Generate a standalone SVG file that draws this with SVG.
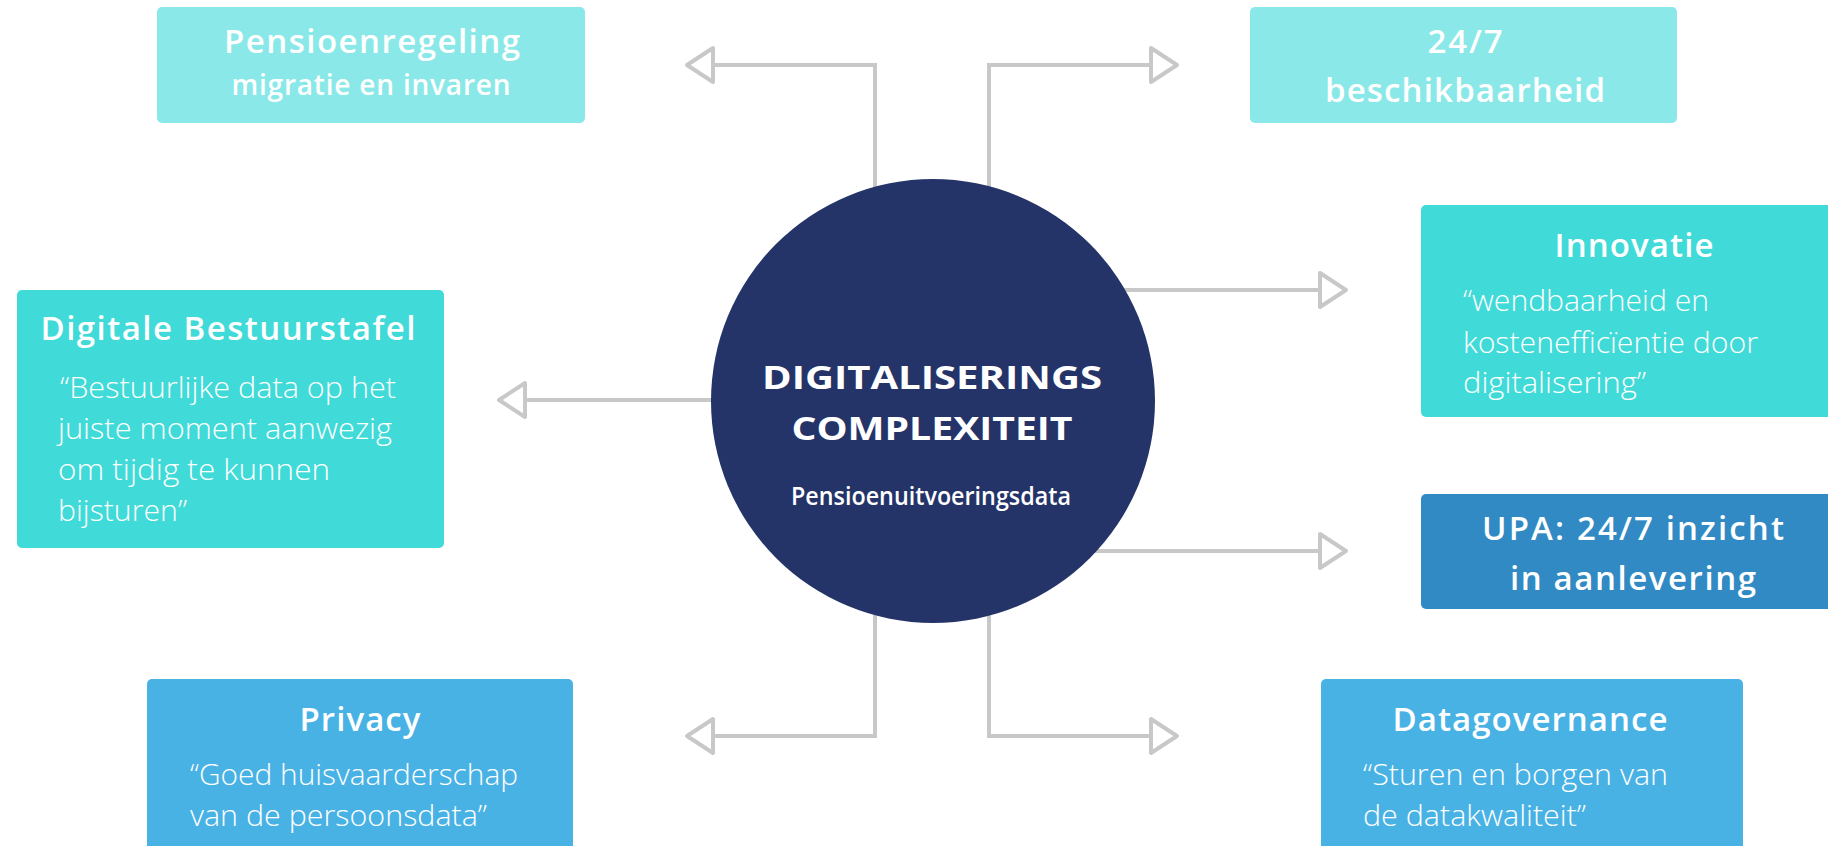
<svg xmlns="http://www.w3.org/2000/svg" width="1828" height="846" viewBox="0 0 1828 846">
<style>
.t{font-family:"Open Sans","Noto Sans","Liberation Sans",sans-serif;font-weight:600;fill:#fff;text-anchor:middle;font-size:33px}
.s{font-family:"Open Sans","Noto Sans","Liberation Sans",sans-serif;font-weight:300;fill:#fff;font-size:29px}
.c{fill:none;stroke:#c8c8c8;stroke-width:4}
.lt{fill:#8ae9e8}
.tq{fill:#40dad8}
.upa{fill:#318ac3}
.lb{fill:#49b2e5}
</style>
<defs>
<marker id="arr" markerUnits="userSpaceOnUse" markerWidth="40" markerHeight="48" viewBox="-4 -24 40 48" refX="0" refY="0" orient="auto">
<path d="M0,-17 L26,0 L0,17 Z" fill="#fff" stroke="#c8c8c8" stroke-width="4" stroke-linejoin="round"/>
</marker>
</defs>
<rect width="1828" height="846" fill="#fff"/>
<g id="connectors">
<path class="c" d="M875,300 V65 H713" marker-end="url(#arr)"/>
<path class="c" d="M989,300 V65 H1151" marker-end="url(#arr)"/>
<path class="c" d="M800,400 H525" marker-end="url(#arr)"/>
<path class="c" d="M1000,290 H1320" marker-end="url(#arr)"/>
<path class="c" d="M1000,551 H1320" marker-end="url(#arr)"/>
<path class="c" d="M875,500 V736 H713" marker-end="url(#arr)"/>
<path class="c" d="M989,500 V736 H1151" marker-end="url(#arr)"/>
</g>
<g id="center">
<circle cx="933" cy="401" r="222" fill="#243469"/>
<text class="t" x="932" y="389" style="font-size:33px;font-weight:700" textLength="340" lengthAdjust="spacingAndGlyphs">DIGITALISERINGS</text>
<text class="t" x="932" y="440" style="font-size:33px;font-weight:700" textLength="281" lengthAdjust="spacingAndGlyphs">COMPLEXITEIT</text>
<text class="t" x="931" y="505" style="font-size:25px" textLength="280" lengthAdjust="spacingAndGlyphs">Pensioenuitvoeringsdata</text>
</g>
<g id="pensioenregeling">
<rect class="lt" x="157" y="7" width="428" height="116" rx="5"/>
<text class="t" x="372" y="53" textLength="296" lengthAdjust="spacing">Pensioenregeling</text>
<text class="t" x="371" y="95" style="font-size:28px" textLength="279" lengthAdjust="spacing">migratie en invaren</text>
</g>
<g id="beschikbaarheid">
<rect class="lt" x="1250" y="7" width="427" height="116" rx="5"/>
<text class="t" x="1465" y="53" textLength="75" lengthAdjust="spacing">24/7</text>
<text class="t" x="1465" y="102" textLength="280" lengthAdjust="spacing">beschikbaarheid</text>
</g>
<g id="bestuurstafel">
<rect class="tq" x="17" y="290" width="427" height="258" rx="5"/>
<text class="t" x="228" y="340" textLength="375" lengthAdjust="spacing">Digitale Bestuurstafel</text>
<text class="s" x="60" y="398" textLength="336" lengthAdjust="spacingAndGlyphs">“Bestuurlijke data op het</text>
<text class="s" x="58" y="439" textLength="334" lengthAdjust="spacingAndGlyphs">juiste moment aanwezig</text>
<text class="s" x="58" y="480" textLength="272" lengthAdjust="spacingAndGlyphs">om tijdig te kunnen</text>
<text class="s" x="58" y="521" textLength="129" lengthAdjust="spacingAndGlyphs">bijsturen”</text>
</g>
<g id="innovatie">
<rect class="tq" x="1421" y="205" width="420" height="212" rx="5"/>
<text class="t" x="1634" y="257" textLength="159" lengthAdjust="spacing">Innovatie</text>
<text class="s" x="1463" y="311" textLength="246" lengthAdjust="spacingAndGlyphs">“wendbaarheid en</text>
<text class="s" x="1463" y="353" textLength="295" lengthAdjust="spacingAndGlyphs">kostenefficïentie door</text>
<text class="s" x="1463" y="393" textLength="183" lengthAdjust="spacingAndGlyphs">digitalisering”</text>
</g>
<g id="upa">
<rect class="upa" x="1421" y="494" width="420" height="115" rx="5"/>
<text class="t" x="1633" y="540" textLength="302" lengthAdjust="spacing">UPA: 24/7 inzicht</text>
<text class="t" x="1633" y="590" textLength="246" lengthAdjust="spacing">in aanlevering</text>
</g>
<g id="privacy">
<rect class="lb" x="147" y="679" width="426" height="180" rx="5"/>
<text class="t" x="360" y="731" textLength="121" lengthAdjust="spacing">Privacy</text>
<text class="s" x="190" y="785" textLength="328" lengthAdjust="spacingAndGlyphs">“Goed huisvaarderschap</text>
<text class="s" x="190" y="826" textLength="297" lengthAdjust="spacingAndGlyphs">van de persoonsdata”</text>
</g>
<g id="datagovernance">
<rect class="lb" x="1321" y="679" width="422" height="180" rx="5"/>
<text class="t" x="1530" y="731" textLength="275" lengthAdjust="spacing">Datagovernance</text>
<text class="s" x="1363" y="785" textLength="305" lengthAdjust="spacingAndGlyphs">“Sturen en borgen van</text>
<text class="s" x="1363" y="826" textLength="223" lengthAdjust="spacingAndGlyphs">de datakwaliteit”</text>
</g>
</svg>
